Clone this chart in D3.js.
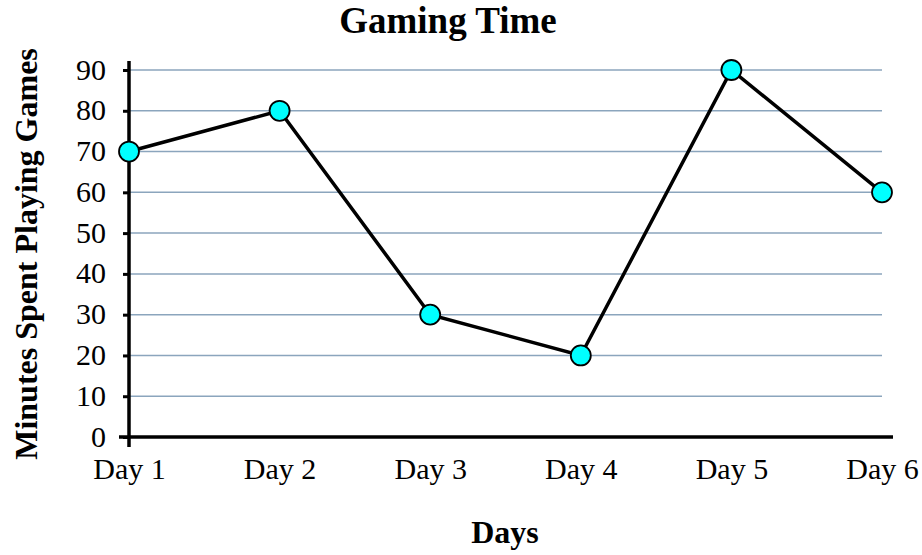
<!DOCTYPE html>
<html><head><meta charset="utf-8">
<script src="https://cdn.jsdelivr.net/npm/d3@7"></script>
<style>body{margin:0;background:#fff}svg{display:block}</style>
</head><body><svg id="c" width="922" height="555"></svg>
<script>
const days = ["Day 1","Day 2","Day 3","Day 4","Day 5","Day 6"];
const minutes = [70, 80, 30, 20, 90, 60];
const yTicks = [0,10,20,30,40,50,60,70,80,90];

const FONT = "Liberation Serif, Times New Roman, serif";
const svg = d3.select("#c");
const L = 129, R = 882, T = 70, B = 437;
const x = d3.scalePoint().domain(days).range([L, R]);
const y = d3.scaleLinear().domain([0, 90]).range([B, T]);

// gridlines
svg.append("g").selectAll("line").data(yTicks.filter(d => d > 0)).join("line")
  .attr("x1", L).attr("x2", R).attr("y1", d => y(d)).attr("y2", d => y(d))
  .attr("stroke", "#8ba5bd").attr("stroke-width", 1.5);

// y axis
const ya = svg.append("g").attr("transform", `translate(${L},0)`)
  .call(d3.axisLeft(y).tickValues(yTicks).tickSize(6).tickPadding(17).tickFormat(d3.format("d")));
ya.attr("font-family", FONT).attr("font-size", 30);
ya.select(".domain").remove();
ya.selectAll(".tick line").attr("stroke", "#000").attr("stroke-width", 3);
ya.selectAll(".tick text").attr("fill", "#000").attr("dy", "0.3em");
svg.append("line").attr("x1", L).attr("x2", L).attr("y1", 61).attr("y2", 447)
  .attr("stroke", "#000").attr("stroke-width", 3.5);

// x axis
const xa = svg.append("g").attr("transform", `translate(0,${B})`)
  .call(d3.axisBottom(x).tickSize(0).tickPadding(21));
xa.attr("font-family", FONT).attr("font-size", 30);
xa.select(".domain").remove();
xa.selectAll(".tick text").attr("fill", "#000");
svg.append("line").attr("x1", 119).attr("x2", 893).attr("y1", B).attr("y2", B)
  .attr("stroke", "#000").attr("stroke-width", 3.5);

// line
svg.append("path").datum(minutes.map((v, i) => [days[i], v]))
  .attr("d", d3.line().x(d => x(d[0])).y(d => y(d[1])))
  .attr("fill", "none").attr("stroke", "#000").attr("stroke-width", 3.5);

svg.append("g").selectAll("circle").data(minutes).join("circle")
  .attr("cx", (d, i) => x(days[i])).attr("cy", d => y(d)).attr("r", 10)
  .attr("fill", "#00ffff").attr("stroke", "#000").attr("stroke-width", 1.8);

// titles
svg.append("text").attr("x", 448).attr("y", 33).attr("text-anchor", "middle")
  .attr("font-family", FONT).attr("font-size", 37).attr("font-weight", "bold").text("Gaming Time");
svg.append("text").attr("x", 505).attr("y", 543).attr("text-anchor", "middle")
  .attr("font-family", FONT).attr("font-size", 32).attr("font-weight", "bold").text("Days");
svg.append("text").attr("transform", `translate(37,254) rotate(-90)`)
  .attr("text-anchor", "middle").attr("font-family", FONT).attr("font-size", 32).attr("font-weight", "bold")
  .text("Minutes Spent Playing Games");
</script></body></html>
